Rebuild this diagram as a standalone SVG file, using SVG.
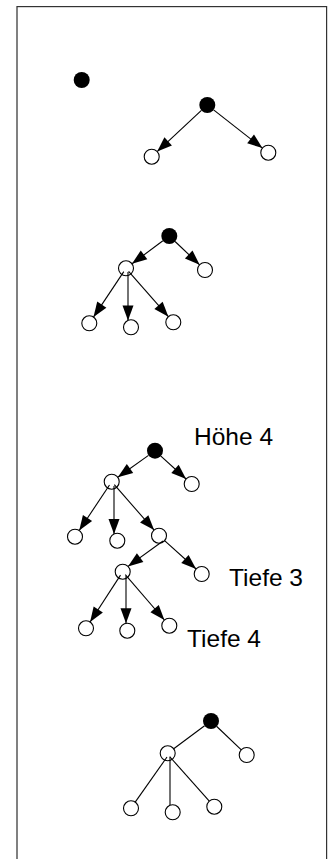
<svg xmlns="http://www.w3.org/2000/svg" width="331" height="859" viewBox="0 0 331 859">
<style>
.e{stroke:#000;stroke-width:1.1;fill:none}
.a{marker-end:url(#arr)}
.o{fill:#fff;stroke:#000;stroke-width:1.1}
.f{fill:#000;stroke:none}
.t{font-family:"Liberation Sans",Arial,sans-serif;font-size:24.5px;fill:#000}
</style>
<defs>
<marker id="arr" markerUnits="userSpaceOnUse" markerWidth="17" markerHeight="13" refX="15" refY="5.5" orient="auto" overflow="visible">
<path d="M0,0 L15,5.5 L0,11 z" fill="#000"/>
</marker>
</defs>
<rect width="331" height="859" fill="#fff"/>
<g id="frame">
<rect x="16" y="6" width="2" height="853" fill="#808080"/>
<rect x="17" y="6" width="310" height="1.2" fill="#333"/>
<rect x="326" y="6" width="1.2" height="853" fill="#333"/>
</g>
<g id="connectors">
<line class="e a" x1="201.4" y1="110.4" x2="157.2" y2="151.6"/>
<line class="e a" x1="213.6" y1="109.9" x2="262.4" y2="148.1"/>
<line class="e a" x1="162.9" y1="240.8" x2="132.0" y2="263.8"/>
<line class="e a" x1="175.1" y1="241.5" x2="199.6" y2="264.8"/>
<line class="e a" x1="123.8" y1="271.6" x2="93.5" y2="317.1"/>
<line class="e a" x1="128" y1="272" x2="128" y2="320.4"/>
<line class="e a" x1="128.6" y1="271.3" x2="168.4" y2="316.7"/>
<line class="e a" x1="148.5" y1="455.4" x2="117.8" y2="477.3"/>
<line class="e a" x1="160.9" y1="456.1" x2="186.1" y2="479.0"/>
<line class="e a" x1="109.5" y1="485.0" x2="79.2" y2="530.5"/>
<line class="e a" x1="114" y1="486" x2="114" y2="534.0"/>
<line class="e a" x1="114.3" y1="484.7" x2="154.1" y2="530.1"/>
<line class="e a" x1="163" y1="541" x2="128.0" y2="566.4"/>
<line class="e a" x1="164.6" y1="540.7" x2="196.1" y2="569.0"/>
<line class="e a" x1="120.5" y1="575.1" x2="90.1" y2="622.0"/>
<line class="e a" x1="126" y1="576" x2="126" y2="623.3"/>
<line class="e a" x1="125.3" y1="574.7" x2="164.4" y2="620.0"/>
<line class="e" x1="204.6" y1="725.8" x2="173.7" y2="748.8"/>
<line class="e" x1="216.8" y1="726.5" x2="241.3" y2="749.8"/>
<line class="e" x1="167" y1="757" x2="135.2" y2="802.1"/>
<line class="e" x1="170" y1="756.5" x2="170" y2="805.3"/>
<line class="e" x1="170" y1="757" x2="209.3" y2="801.1"/>
</g>
<g id="n1"><circle class="f" cx="81.7" cy="80" r="8"/></g>
<g id="n2"><circle class="f" cx="207.3" cy="105" r="8"/></g>
<g id="n3"><circle class="o" cx="151.7" cy="156.7" r="7.5"/></g>
<g id="n4"><circle class="o" cx="268.3" cy="152.7" r="7.5"/></g>
<g id="n5"><circle class="f" cx="169.3" cy="236" r="8"/></g>
<g id="n6"><circle class="o" cx="126" cy="268.3" r="7.5" fill-opacity="0"/></g>
<g id="n7"><circle class="o" cx="205" cy="270" r="7.5"/></g>
<g id="n8"><circle class="o" cx="89.3" cy="323.3" r="7.5"/></g>
<g id="n9"><circle class="o" cx="131" cy="327.3" r="7.5"/></g>
<g id="n10"><circle class="o" cx="173.3" cy="322.3" r="7.5"/></g>
<g id="n11"><circle class="f" cx="155" cy="450.7" r="8"/></g>
<g id="n12"><circle class="o" cx="111.7" cy="481.7" r="7.5" fill-opacity="0"/></g>
<g id="n13"><circle class="o" cx="191.7" cy="484" r="7.5"/></g>
<g id="n14"><circle class="o" cx="75" cy="536.7" r="7.5"/></g>
<g id="n15"><circle class="o" cx="117.3" cy="540.7" r="7.5"/></g>
<g id="n16"><circle class="o" cx="159" cy="535.7" r="7.5" fill-opacity="0"/></g>
<g id="n17"><circle class="o" cx="122.7" cy="571.7" r="7.5" fill-opacity="0"/></g>
<g id="n18"><circle class="o" cx="201.7" cy="574" r="7.5"/></g>
<g id="n19"><circle class="o" cx="86" cy="628.3" r="7.5"/></g>
<g id="n20"><circle class="o" cx="127.3" cy="630.7" r="7.5"/></g>
<g id="n21"><circle class="o" cx="169.3" cy="625.7" r="7.5"/></g>
<g id="n22"><circle class="f" cx="211" cy="721" r="8"/></g>
<g id="n23"><circle class="o" cx="167.7" cy="753.3" r="7.5" fill-opacity="0"/></g>
<g id="n24"><circle class="o" cx="246.7" cy="755" r="7.5"/></g>
<g id="n25"><circle class="o" cx="131" cy="808.3" r="7.5"/></g>
<g id="n26"><circle class="o" cx="172.7" cy="812.3" r="7.5"/></g>
<g id="n27"><circle class="o" cx="214.3" cy="806.7" r="7.5"/></g>
<g id="labels">
<text class="t" x="194" y="445">Höhe 4</text>
<text class="t" x="229" y="586">Tiefe 3</text>
<text class="t" x="187" y="647">Tiefe 4</text>
</g>
</svg>
